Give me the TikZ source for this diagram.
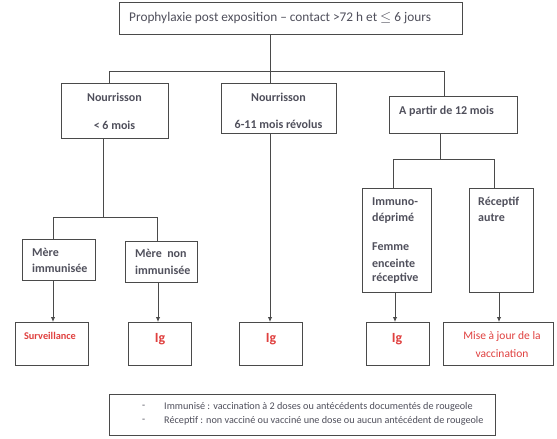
\documentclass[tikz,border=0pt]{standalone}
\usepackage{fontspec}
\setmainfont{Carlito}
\usetikzlibrary{arrows.meta}
\definecolor{ln}{HTML}{4A4A4A}
\definecolor{tx}{HTML}{50505C}
\definecolor{rd}{HTML}{E0403F}
\begin{document}
\begin{tikzpicture}[x=1pt,y=-1pt,
  box/.style={draw=ln, line width=0.9pt, inner sep=0pt, outer sep=0pt, fill=white},
  con/.style={draw=ln, line width=0.9pt},
  arr/.style={con, -{Latex[length=5pt,width=4.5pt]}},
  lbl/.style={text=tx, font=\bfseries\fontsize{12}{14}\selectfont, inner sep=0pt},
  lbll/.style={lbl, anchor=west},
  red/.style={text=rd, inner sep=0pt},
  leg/.style={text=tx, font=\fontsize{10.2}{12}\selectfont, inner sep=0pt, anchor=west}]
\useasboundingbox[fill=white] (0,0) rectangle (557,439);

% boxes
\node[box, minimum width=343pt, minimum height=32pt] (top) at (290.5,18) {};
\node[box, minimum width=107pt, minimum height=55pt] (n1) at (114.5,110.5) {};
\node[box, minimum width=115pt, minimum height=50pt] (n2) at (278.5,108) {};
\node[box, minimum width=128pt, minimum height=37pt] (a) at (453,114.5) {};
\node[box, minimum width=73pt, minimum height=41pt] (m1) at (58.5,259.5) {};
\node[box, minimum width=72pt, minimum height=41pt] (m2) at (161,261.5) {};
\node[box, minimum width=69pt, minimum height=104pt] (im) at (396.5,240) {};
\node[box, minimum width=64pt, minimum height=104pt] (re) at (501,240) {};
\node[box, minimum width=73pt, minimum height=43pt] (s) at (51.5,343.5) {};
\node[box, minimum width=63pt, minimum height=43pt] (ig1) at (159.5,343.5) {};
\node[box, minimum width=63pt, minimum height=43pt] (ig2) at (270.5,343.5) {};
\node[box, minimum width=63pt, minimum height=43pt] (ig3) at (397.5,343.5) {};
\node[box, minimum width=110pt, minimum height=43pt] (mj) at (498,343.5) {};
\node[box, minimum width=386pt, minimum height=41pt] (lg) at (302,414.5) {};

% texts
\node[text=tx, font=\fontsize{13.3}{16}\selectfont, inner sep=0pt, anchor=west] (tt) at (129,18) {Prophylaxie post exposition -- contact >72 h et $\le$ 6 jours};
\node[lbl] (t1a) at (114.5,97) {Nourrisson};
\node[lbl] (t1b) at (114.5,125) {< 6 mois};
\node[lbl] (t2a) at (278.5,97) {Nourrisson};
\node[lbl] (t2b) at (278.5,124) {6-11 mois révolus};
\node[lbll] (t3) at (399,111) {A partir de 12 mois};
\node[lbll] (t4a) at (32,252) {Mère};
\node[lbll] (t4b) at (32,268) {immunisée};
\node[lbll] (t5a) at (135,253) {Mère~ non};
\node[lbll] (t5b) at (135,270) {immunisée};
\node[lbll] (t6a) at (372,202) {Immuno-};
\node[lbll] (t6b) at (372,218) {déprimé};
\node[lbll] (t6c) at (372,247) {Femme};
\node[lbll] (t6d) at (372,263) {enceinte};
\node[lbll] (t6e) at (372,278) {réceptive};
\node[lbll] (t7a) at (478,202) {Réceptif};
\node[lbll] (t7b) at (478,218) {autre};
\node[red, font=\bfseries\fontsize{10.3}{12}\selectfont] (ts) at (50,336) {Surveillance};
\node[red, font=\bfseries\fontsize{14}{16}\selectfont] (tg1) at (160,339) {Ig};
\node[red, font=\bfseries\fontsize{14}{16}\selectfont] (tg2) at (271,339) {Ig};
\node[red, font=\bfseries\fontsize{14}{16}\selectfont] (tg3) at (397,339) {Ig};
\node[red, font=\fontsize{11.5}{13}\selectfont] (tm1) at (502,336) {Mise à jour de la};
\node[red, font=\fontsize{11.5}{13}\selectfont] (tm2) at (502,354) {vaccination};
\node[leg] (d1) at (142,407) {-};
\node[leg] (d2) at (142,421) {-};
\node[leg] (l1) at (164,407) {Immunisé : vaccination à 2 doses ou antécédents documentés de rougeole};
\node[leg] (l2) at (164,421) {Réceptif : non vacciné ou vacciné une dose ou aucun antécédent de rougeole};

% connectors
\coordinate (b1L) at (109,71);
\coordinate (b1M) at (270,71);
\coordinate (b1R) at (444,71);
\draw[con] (top.south -| b1M) -- (b1M);
\draw[con] (b1L) -- (b1R);
\draw[con] (b1L) -- (b1L |- n1.north);
\draw[con] (b1M) -- (b1M |- n2.north);
\draw[con] (b1R) -- (b1R |- a.north);

\coordinate (b2M) at (103,217);
\coordinate (b2L) at (53,217);
\coordinate (b2R) at (157,217);
\draw[con] (n1.south -| b2M) -- (b2M);
\draw[con] (b2L) -- (b2R);
\draw[con] (b2L) -- (b2L |- m1.north);
\draw[con] (b2R) -- (b2R |- m2.north);

\coordinate (b3M) at (440,159);
\coordinate (b3L) at (393,159);
\coordinate (b3R) at (494,159);
\draw[con] (a.south -| b3M) -- (b3M);
\draw[con] (b3L) -- (b3R);
\draw[con] (b3L) -- (b3L |- im.north);
\draw[con] (b3R) -- (b3R |- re.north);

\coordinate (x1) at (53,0);
\coordinate (x2) at (158,0);
\coordinate (x3) at (270,0);
\coordinate (x4) at (395,0);
\coordinate (x5) at (499,0);
\draw[arr] (m1.south -| x1) -- (s.north -| x1);
\draw[arr] (m2.south -| x2) -- (ig1.north -| x2);
\draw[arr] (n2.south -| x3) -- (ig2.north -| x3);
\draw[arr] (im.south -| x4) -- (ig3.north -| x4);
\draw[arr] (re.south -| x5) -- (mj.north -| x5);
\end{tikzpicture}
\end{document}
